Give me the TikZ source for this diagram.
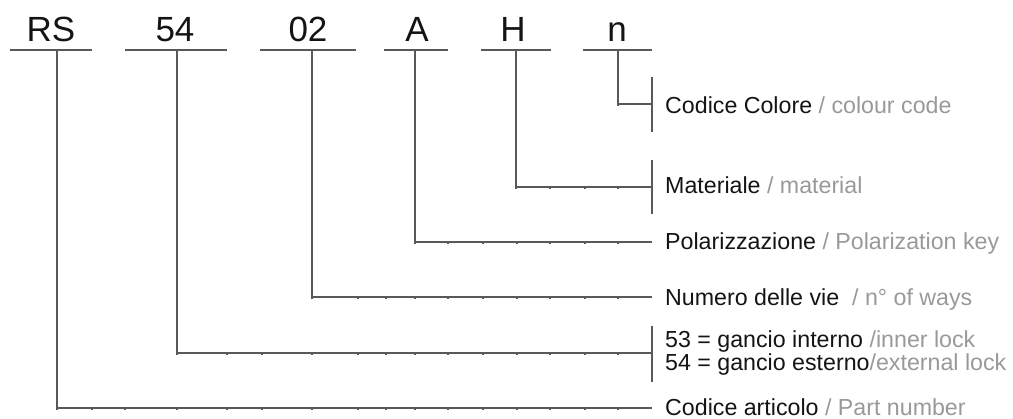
\documentclass[tikz,border=0pt]{standalone}
\usepackage{fontspec}
\setmainfont{Liberation Sans}
\definecolor{lncol}{gray}{0.35}
\definecolor{darktxt}{gray}{0.08}
\definecolor{lighttxt}{gray}{0.6}
\begin{document}
\begin{tikzpicture}[x=1pt,y=-1pt,
  ln/.style={draw=lncol,line width=1.1pt},
  toplbl/.style={anchor=base,inner sep=0pt,text=darktxt,font=\fontsize{35}{40}\selectfont},
  lbl/.style={anchor=base west,inner sep=0pt,text=darktxt,font=\fontsize{23.2}{23}\selectfont},
  tickmark/.style={fill=lncol}]
\useasboundingbox (0,0) rectangle (1013,419);
% top labels
\node[toplbl] (tRS) at (51,42) {RS};
\node[toplbl] (t54) at (175,42) {54};
\node[toplbl] (t02) at (308,42) {02};
\node[toplbl] (tA) at (417,42) {A};
\node[toplbl] (tH) at (513,42) {H};
\node[toplbl] (tn) at (617,42) {n};
% underlines
\coordinate (uRSa) at (10,50);  \coordinate (uRSb) at (92,50);
\coordinate (u54a) at (125,50); \coordinate (u54b) at (227,50);
\coordinate (u02a) at (260,50); \coordinate (u02b) at (356,50);
\coordinate (uAa) at (384,50);  \coordinate (uAb) at (448,50);
\coordinate (uHa) at (481,50);  \coordinate (uHb) at (551,50);
\coordinate (una) at (583,50);  \coordinate (unb) at (652,50);
\foreach \a/\b in {uRSa/uRSb,u54a/u54b,u02a/u02b,uAa/uAb,uHa/uHb,una/unb}
  \draw[ln] (\a) -- (\b);
% stems
\coordinate (sRS) at (57,50);
\coordinate (s54) at (177,50);
\coordinate (s02) at (312,50);
\coordinate (sA) at (415,50);
\coordinate (sH) at (516,50);
\coordinate (sn) at (618,50);
% connector ends
\coordinate (eCol) at (652,104);
\coordinate (eMat) at (652,187);
\coordinate (ePol) at (652,242);
\coordinate (eVie) at (652,297);
\coordinate (eGan) at (652,353);
\coordinate (eArt) at (652,408);
\draw[ln] (sn) |- (eCol);
\draw[ln] (sH) |- (eMat);
\draw[ln] (sA) |- (ePol);
\draw[ln] (s02) |- (eVie);
\draw[ln] (s54) |- (eGan);
\draw[ln] (sRS) |- (eArt);
% bars
\draw[ln] (652,77) -- (652,132);
\draw[ln] (652,160) -- (652,214);
\draw[ln] (652,326) -- (652,382);
% ticks
\foreach \y/\xs in {408/{57,92,125,177,227,262,312,358,386,415,448,483,517,550,585,618},
                    353/{177,227,262,312,358,386,415,448,483,517,550,585,618},
                    297/{312,358,386,415,448,483,517,550,585,618},
                    242/{415,448,483,517,550,585,618},
                    187/{516,550,585,618},
                    104/{618}}
  \foreach \x in \xs
    \fill[tickmark] (\x-0.6,\y+0.4) rectangle (\x+0.6,\y+1.6);
% labels
\node[lbl] (lCol) at (665,114) {Codice Colore \textcolor{lighttxt}{/ colour code}};
\node[lbl] (lMat) at (665,194) {Materiale \textcolor{lighttxt}{/ material}};
\node[lbl] (lPol) at (665,250) {Polarizzazione \textcolor{lighttxt}{/ Polarization key}};
\node[lbl] (lVie) at (665,306) {Numero delle vie\ \ \textcolor{lighttxt}{/ n° of ways}};
\node[lbl] (lGa) at (665,348) {53 = gancio interno \textcolor{lighttxt}{/inner lock}};
\node[lbl] (lGb) at (665,371) {54 = gancio esterno\textcolor{lighttxt}{/external lock}};
\node[lbl] (lArt) at (665,416) {Codice articolo \textcolor{lighttxt}{/ Part number}};
\end{tikzpicture}
\end{document}
